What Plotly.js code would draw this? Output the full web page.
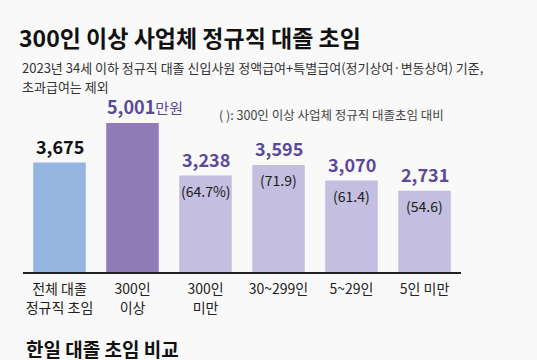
<!DOCTYPE html>
<html>
<head>
<meta charset="utf-8">
<script src="https://cdn.plot.ly/plotly-3.0.1.min.js"></script>
<style>html,body{margin:0;padding:0;background:#f9f9f9;}</style>
</head>
<body>
<div id="chart" style="width:537px;height:360px;"></div>
<script>
const categories = ["전체 대졸<br>정규직 초임", "300인<br>이상", "300인<br>미만", "30~299인", "5~29인", "5인 미만"];
const values = [3675, 5001, 3238, 3595, 3070, 2731];
const ratios = [null, null, "64.7%", "71.9", "61.4", "54.6"];
const barColors = ["#93b5df", "#8f7bb8", "#c4bfe0", "#c4bfe0", "#c4bfe0", "#c4bfe0"];
const unitLabel = "만원";

const FONT = "Noto Sans CJK KR, Noto Sans, sans-serif";
const PURPLE = "#5b4898";

const annotations = [];
values.forEach((v, i) => {
  const num = v.toLocaleString("en-US");
  let text, color, xshift = 0;
  if (i === 0) { text = "<b>" + num + "</b>"; color = "#111111"; }
  else if (i === 1) {
    text = "<b>" + num + "</b><span style=\"font-size:15px\">" + unitLabel + "</span>";
    color = PURPLE; xshift = 12;
  } else { text = "<b>" + num + "</b>"; color = PURPLE; }
  annotations.push({
    x: categories[i], y: v, xref: "x", yref: "y", text: text, showarrow: false,
    yanchor: "bottom", xanchor: "center", yshift: 2, xshift: xshift,
    font: {family: FONT, size: 18, color: color}
  });
  if (ratios[i]) {
    annotations.push({
      x: categories[i], y: v, xref: "x", yref: "y", text: "(" + ratios[i] + ")", showarrow: false,
      yanchor: "top", xanchor: "center", yshift: -3,
      font: {family: FONT, size: 14, color: "#1a1a1a"}
    });
  }
});

function py(pix) { return (272 - pix) / 179; }
function px(pix) { return (pix - 23) / 438; }

annotations.push({
  xref: "paper", yref: "paper", x: px(20), y: py(67), xanchor: "left", yanchor: "middle",
  text: "2023년 34세 이하 정규직 대졸 신입사원 정액급여+특별급여(정기상여·변동상여) 기준,",
  showarrow: false, font: {family: FONT, size: 13, color: "#333333"}
});
annotations.push({
  xref: "paper", yref: "paper", x: px(20), y: py(86), xanchor: "left", yanchor: "middle",
  text: "초과급여는 제외",
  showarrow: false, font: {family: FONT, size: 13, color: "#333333"}
});
annotations.push({
  xref: "paper", yref: "paper", x: px(217), y: py(114), xanchor: "left", yanchor: "middle",
  text: "( ): 300인 이상 사업체 정규직 대졸초임 대비",
  showarrow: false, font: {family: FONT, size: 12.5, color: "#444444"}
});
annotations.push({
  xref: "paper", yref: "paper", x: px(24), y: py(348), xanchor: "left", yanchor: "middle",
  text: "<b>한일 대졸 초임 비교</b>",
  showarrow: false, font: {family: FONT, size: 19, color: "#111111"}
});

const data = [{
  type: "bar", x: categories, y: values,
  marker: {color: barColors, line: {width: 0}},
  hoverinfo: "skip"
}];

const layout = {
  width: 537, height: 360,
  margin: {l: 23, r: 76, t: 93, b: 88, pad: 0},
  paper_bgcolor: "#f9f9f9", plot_bgcolor: "#f9f9f9",
  bargap: 0.28,
  showlegend: false,
  title: {
    text: "<b>300인 이상 사업체 정규직 대졸 초임</b>",
    xref: "container", yref: "container", x: 19/537, xanchor: "left",
    y: 1 - 39/360, yanchor: "middle",
    font: {family: FONT, size: 23, color: "#111111"}
  },
  xaxis: {
    type: "category", range: [-0.5, 5.5], fixedrange: true,
    showline: true, linecolor: "#222222", linewidth: 1.5,
    showgrid: false, zeroline: false,
    ticks: "outside", ticklen: 4, tickcolor: "rgba(0,0,0,0)",
    tickfont: {family: FONT, size: 14, color: "#222222"}
  },
  yaxis: {
    range: [0, 6008], visible: false, showgrid: false, zeroline: false, fixedrange: true
  },
  annotations: annotations
};

Plotly.newPlot("chart", data, layout, {displayModeBar: false, staticPlot: true});
</script>
</body>
</html>
